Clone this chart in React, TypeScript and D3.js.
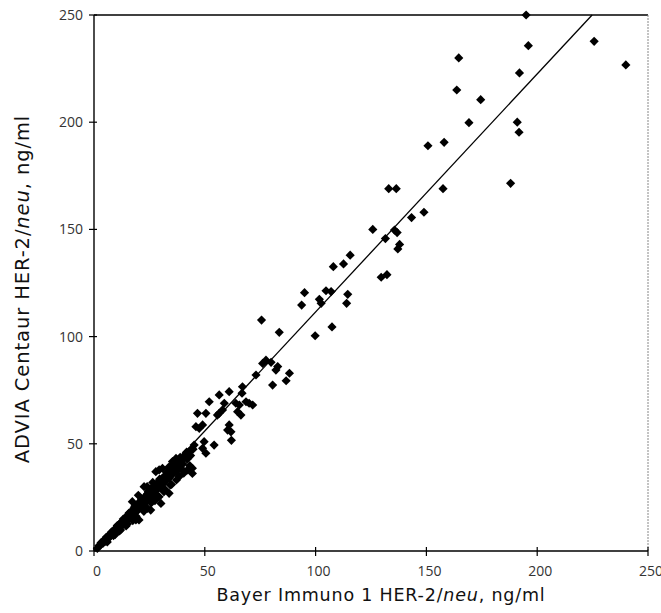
import React from "react";
import * as d3 from "d3";

const bayer: number[] = [
  195, 196, 164.6, 225.7, 240, 192, 163.7, 174.5, 169.2, 191, 191.8, 150.7, 158, 133, 136.4, 157.5, 188,
  148.9, 143.3, 125.8, 135.6, 136.8, 131.5, 137.9, 137.1, 115.6, 112.6, 108, 129.6, 132.2, 114.5, 114,
  104.7, 107, 95, 101.7, 102.5, 93.7, 75.6, 83.6, 99.8, 107.4, 76.1, 79.9, 77.6, 82.9, 82.1, 73.1, 88.2,
  86.7, 80.6, 67, 66.8, 61, 56.5, 70, 65.6, 64.8, 58.8, 58, 56.5, 55.7, 52, 46.7, 50.5, 46, 47.5, 49, 61,
  60.3, 61.8, 62, 49.7, 49, 54.2, 45.2, 43.7, 41.5, 40, 37, 35.4, 44.4, 42.2, 40, 33.9, 30.9, 29.4, 27.9,
  37, 33.9, 44.4, 50.5, 33.9, 31.6, 29.4, 30.2, 25.6, 24.1, 20.3, 18.9, 71.6, 68.6, 66.3, 64,
  1.5, 2.2, 3, 3.5, 4, 4.8, 5.2, 5.8, 6.3, 6.9, 7.4, 8, 8.5, 9, 9.6, 10.2, 10.8, 11.3, 11.9, 12.5, 13,
  13.6, 14.1, 14.7, 15.3, 15.8, 16.4, 17, 17.6, 18.1, 18.7, 19.3, 19.9, 20.5, 21.1, 21.8, 22.4, 23, 23.5,
  24.2, 24.8, 25.4, 26, 26.6, 27.3, 27.9, 28.5, 29.2, 29.8, 30.5, 31.2, 31.8, 32.5, 33.3, 34, 34.6, 35.3,
  36.1, 36.8, 37.6, 38.4, 39.2, 40.1, 41, 42, 42.8, 43.6, 44.7,
  6, 9.5, 12, 14.5, 17.5, 22.5, 27.5, 32, 35, 38.5, 17.3, 22.6, 20, 24, 26.5,
  3.2, 5.5, 7.8, 10.5, 13.2, 15.9, 18.4, 21.4, 24.5, 27, 29.6, 32.8, 35.8, 38.9, 41.8,
  8.8, 11.5, 15.1, 19, 22, 25.8, 28.9, 31.5, 34.4, 37.2, 40.5, 43.2
];

const centaur: number[] = [
  250, 235.7, 230, 237.7, 226.7, 223, 215, 210.5, 199.8, 200, 195.3, 189, 190.6, 169, 169, 169, 171.5,
  158, 155.5, 150, 149.7, 148.5, 145.7, 143, 140.9, 138, 133.9, 132.6, 127.7, 128.9, 119.7, 115.5,
  121.4, 121, 120.5, 117.4, 115.5, 114.7, 107.7, 102, 100.4, 104.5, 87.5, 88, 89, 86, 84.4, 82.1, 82.9,
  79.4, 77.4, 76.6, 73.6, 74.3, 72.8, 68.9, 68.1, 65, 68.9, 65.8, 64.2, 63.4, 69.6, 64.2, 64.2, 58, 57.2, 58.8, 58.8,
  56.4, 55.6, 51.6, 51, 47.9, 49.4, 49.4, 47.1, 45.6, 43.2, 43.2, 41.7, 38.6, 37.8, 37.8, 39.3, 38.6, 37.8, 37,
  37, 36.2, 36.2, 45.6, 26.9, 27.7, 25.3, 22.2, 19.1, 19.9, 14.5, 14.5, 68.1, 69.6, 63.4, 68.9,
  1.2, 2.5, 2.8, 4, 3.5, 5.2, 4.6, 6.4, 5.8, 7.5, 6.8, 8.9, 7.9, 9.8, 9.1, 11, 10.2, 12.4, 11.3, 13.6, 12.2,
  14.8, 13.3, 16.2, 14.6, 17.4, 15.5, 18.6, 16.8, 20.1, 18.2, 21.4, 19.1, 22.8, 20.4, 24, 21.6, 25.4, 23.2,
  26.8, 24.5, 28.2, 25.7, 29.6, 27.1, 31, 28.6, 32.3, 30.1, 33.6, 31.4, 35, 32.8, 36.1, 34, 37.8, 35.6,
  39, 37.5, 40.4, 39, 41.8, 40.6, 44.5, 42.8, 46.2, 44.5, 47.5,
  4.2, 7.6, 9.8, 11.7, 14.2, 18.5, 23.5, 28.8, 31, 34.8, 23, 30, 26, 30, 32,
  3.9, 6.4, 8.6, 11.9, 14.9, 17.8, 20.9, 24.2, 27.8, 30.4, 33.5, 36.7, 40.2, 43.7, 46.1,
  7.2, 9.4, 12.6, 16.2, 19.3, 22.4, 25.3, 27.9, 30.8, 33.1, 36.3, 39.8
];

const xTicks: number[] = [0, 50, 100, 150, 200, 250];
const yTicks: number[] = [0, 50, 100, 150, 200, 250];
const fitSlope = 1.11;
const fitIntercept = 0.5;

export default function App() {
  const W = 661, H = 613;
  const x = d3.scaleLinear().domain([0, 250]).range([94, 648]);
  const y = d3.scaleLinear().domain([0, 250]).range([551, 15]);
  const sym = d3.symbol().type(d3.symbolSquare).size(42)() as string;
  const xEnd = (250 - fitIntercept) / fitSlope;
  const font = "'Open Sans', 'DejaVu Sans', sans-serif";
  const titleFont = "'DejaVu Sans', sans-serif";
  return (
    <div style={{ position: "absolute", left: 0, top: 0 }}>
      <svg width={W} height={H} style={{ display: "block", background: "#fff" }}>
        {/* frame */}
        <line x1={x(0)} x2={x(250)} y1={y(250)} y2={y(250)} stroke="#000" strokeWidth={1.6} />
        <line x1={x(250)} x2={x(250)} y1={y(250)} y2={y(0)} stroke="#888" strokeWidth={1} strokeDasharray="2,1" />
        <line x1={x(0)} x2={x(250)} y1={y(0)} y2={y(0)} stroke="#000" strokeWidth={1.6} />
        <line x1={x(0)} x2={x(0)} y1={y(250)} y2={y(0)} stroke="#000" strokeWidth={1.4} />
        {/* x ticks */}
        {xTicks.map((t) => (
          <g key={"xt" + t}>
            <line x1={x(t)} x2={x(t)} y1={y(0) - 4} y2={y(0) + 5} stroke="#000" strokeWidth={1.2} />
            <text x={x(t) + 3} y={576} textAnchor="middle" fontFamily={font} fontSize={14} fill="#333">{t}</text>
          </g>
        ))}
        {/* y ticks */}
        {yTicks.map((t) => (
          <g key={"yt" + t}>
            <line x1={x(0) - 5} x2={x(0) + 3} y1={y(t)} y2={y(t)} stroke="#000" strokeWidth={1.2} />
            <text x={x(0) - 11} y={y(t)} dy="0.35em" textAnchor="end" fontFamily={font} fontSize={14} fill="#333">{t}</text>
          </g>
        ))}
        {/* fit line */}
        <line x1={x(0)} y1={y(fitIntercept)} x2={x(xEnd)} y2={y(250)} stroke="#000" strokeWidth={1.3} />
        {/* points */}
        {bayer.map((bv, i) => (
          <path key={"p" + i} d={sym} transform={`translate(${x(bv)},${y(centaur[i])}) rotate(45)`} fill="#000" />
        ))}
        {/* axis titles */}
        <text x={381} y={601} textAnchor="middle" fontFamily={titleFont} fontSize={17.5} letterSpacing={0.8} fill="#111">
          Bayer Immuno 1 HER-2/<tspan fontStyle="italic">neu</tspan>, ng/ml
        </text>
        <text transform="translate(29,289) rotate(-90)" textAnchor="middle" fontFamily={titleFont} fontSize={19.5} letterSpacing={0.9} fill="#111">
          ADVIA Centaur HER-2/<tspan fontStyle="italic">neu</tspan>, ng/ml
        </text>
      </svg>
    </div>
  );
}
